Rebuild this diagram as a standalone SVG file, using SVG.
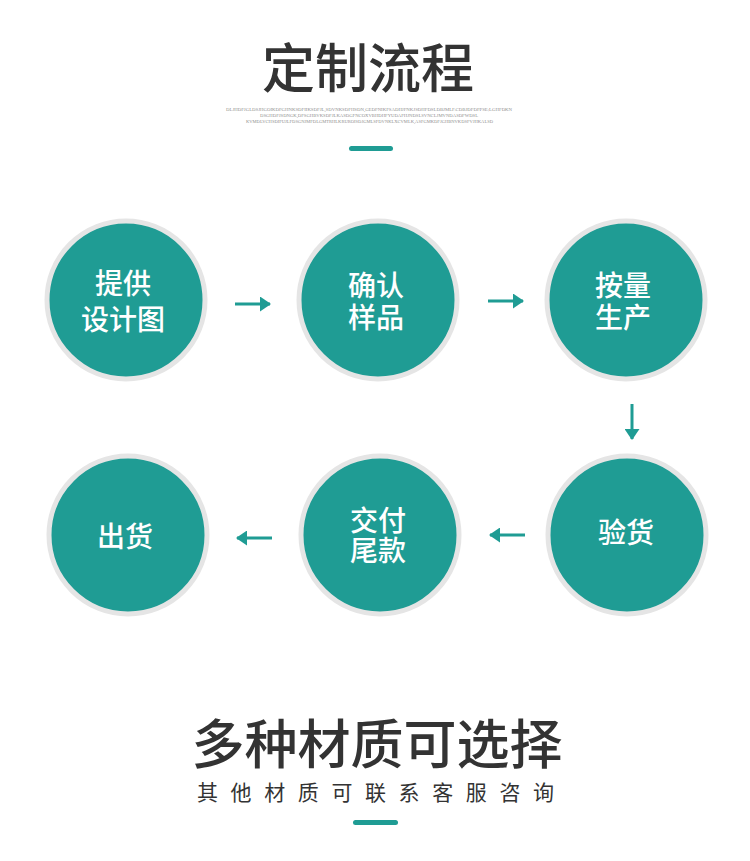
<svg xmlns="http://www.w3.org/2000/svg" width="750" height="861" viewBox="0 0 750 861">
<style>
.node circle{fill:#1f9c94;stroke:#e5e5e5;stroke-width:5}
.node text{fill:#fff;font-family:"Noto Sans CJK SC",sans-serif;font-size:28px;font-weight:500;text-anchor:middle}
.title{fill:#333;font-family:"Noto Sans CJK SC",sans-serif;font-weight:500;text-anchor:middle}
.tiny{fill:#8f8f8f;font-family:"Liberation Serif",serif;font-size:5px}
.conn path{stroke:#1f9c94;stroke-width:3;fill:none;marker-end:url(#ah)}
.bar{fill:#1f9c94}
</style>
<defs>
<marker id="ah" viewBox="0 0 11 15" refX="10" refY="7.5" markerWidth="11" markerHeight="15" markerUnits="userSpaceOnUse" orient="auto">
<path d="M0,0 L11,7.5 L0,15 z" fill="#1f9c94"/>
</marker>
</defs>
<rect width="750" height="861" fill="#fff"/>
<g id="header">
<text class="title" x="368" y="88" font-size="53">定制流程</text>
<text class="tiny" x="226" y="111" textLength="286" lengthAdjust="spacingAndGlyphs">DLJHDFJGLDSJHGOIKDFGHNKSDFIIKSDFJL,SDVNKSDFHSDN,GEDFNIKFSADHJFNKJSDHFDSLDBJMLF.CDBJDFDFPSE;LGHFDKN</text>
<text class="tiny" x="260" y="117" textLength="218" lengthAdjust="spacingAndGlyphs">DSGHDFJSDNGK,DFSGHBVKSDFJLKASDGFNCOXVBHDHFYUDAFHJNDSLSVNCLJMVNDASDFWDSL</text>
<text class="tiny" x="246" y="123" textLength="247" lengthAdjust="spacingAndGlyphs">KVMDLVCHSDIFUJLFDSGNJMFDLGMTRHLKRUROISDJGMLSFDVNKLXCVMLK,ASFGMKDFJGHBNVKDSFVJHKALSD</text>
<rect class="bar" x="349" y="146" width="44" height="5" rx="2.5"/>
</g>
<g id="n1" class="node">
<circle cx="126" cy="300" r="79"/>
<text x="123" y="294">提供</text>
<text x="123" y="330">设计图</text>
</g>
<g id="n2" class="node">
<circle cx="378" cy="300" r="79"/>
<text x="376" y="296">确认</text>
<text x="376" y="328">样品</text>
</g>
<g id="n3" class="node">
<circle cx="626" cy="300" r="79"/>
<text x="623" y="296">按量</text>
<text x="623" y="328">生产</text>
</g>
<g id="n4" class="node">
<circle cx="627" cy="535" r="79"/>
<text x="626" y="543">验货</text>
</g>
<g id="n5" class="node">
<circle cx="380" cy="535" r="79"/>
<text x="378" y="531">交付</text>
<text x="378" y="561">尾款</text>
</g>
<g id="n6" class="node">
<circle cx="128" cy="535" r="79"/>
<text x="125" y="547">出货</text>
</g>
<g id="connectors" class="conn">
<path d="M235,304 L270,304"/>
<path d="M488,301 L523,301"/>
<path d="M632,404 L632,439"/>
<path d="M525,535 L490,535"/>
<path d="M272,538 L237,538"/>
</g>
<g id="footer">
<text class="title" x="377" y="764" font-size="53">多种材质可选择</text>
<text x="197" y="800" fill="#333" font-family="Noto Sans CJK SC,sans-serif" font-size="21" letter-spacing="12.6">其他材质可联系客服咨询</text>
<rect class="bar" x="353" y="820" width="45" height="5" rx="2.5"/>
</g>
</svg>
